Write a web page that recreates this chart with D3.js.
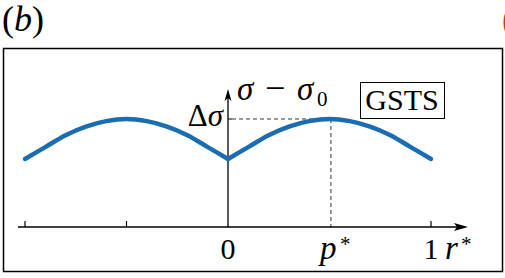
<!DOCTYPE html>
<html>
<head>
<meta charset="utf-8">
<script src="https://cdn.jsdelivr.net/npm/d3@7"></script>
<style>
body{margin:0;background:#fff;}
svg text{font-family:"Liberation Serif","Times New Roman","DejaVu Serif",serif;fill:#000;}
</style>
</head>
<body>
<div id="chart"></div>
<script>
// r* positions and read-off sigma - sigma0 (in units of the peak, delta sigma = 1)
var rValues=[-1,-0.9,-0.8,-0.7,-0.6,-0.5,-0.4,-0.3,-0.2,-0.1,0,0.1,0.2,0.3,0.4,0.5,0.6,0.7,0.8,0.9,1];
var sigmaValues=[0.63,0.74,0.85,0.93,0.98,1.0,0.98,0.93,0.85,0.74,0.63,0.74,0.85,0.93,0.98,1.0,0.98,0.93,0.85,0.74,0.63];
var tickValues=[-1,-0.5,0,0.507,1];
var pStar=0.507;
var deltaSigma=1;

var width=505,height=278;
var svg=d3.select("#chart").append("svg").attr("width",width).attr("height",height);

var x=d3.scaleLinear().domain([0,1]).range([228,431]);
var y=d3.scaleLinear().domain([0,1]).range([227,119]);

// panel label
svg.append("text").attr("x",2).attr("y",31).style("font-size","36px")
	.html('(<tspan font-style="italic">b</tspan>)');
svg.append("text").attr("x",502).attr("y",31).style("font-size","36px").style("fill","#b5470c").text("(c)");

// frame
svg.append("rect").attr("x",3.5).attr("y",48.5).attr("width",499).attr("height",223)
	.style("fill","none").style("stroke","#000").style("stroke-width","1.5px");

// x axis
svg.append("line").attr("x1",18).attr("y1",y(0)).attr("x2",462).attr("y2",y(0))
	.style("stroke","#000").style("stroke-width","1.3px");
svg.append("path").attr("d","M468,"+y(0)+" L454,"+(y(0)-4)+" L457,"+y(0)+" L454,"+(y(0)+4)+"Z").style("fill","#000");

svg.selectAll(".tick").data(tickValues.filter(function(d){return d!=0 && d!=pStar;})).enter()
	.append("line").attr("class","tick")
	.attr("x1",function(d){return x(d);}).attr("x2",function(d){return x(d);})
	.attr("y1",y(0)).attr("y2",y(0)-6)
	.style("stroke","#000").style("stroke-width","1.2px");

// y axis
svg.append("line").attr("x1",x(0)).attr("y1",y(0)).attr("x2",x(0)).attr("y2",96)
	.style("stroke","#000").style("stroke-width","1.3px");
svg.append("path").attr("d","M"+x(0)+",89 L"+(x(0)-3.5)+",101 L"+x(0)+",98 L"+(x(0)+3.5)+",101Z").style("fill","#000");
svg.append("line").attr("x1",x(0)).attr("x2",x(0)+4).attr("y1",y(deltaSigma)).attr("y2",y(deltaSigma))
	.style("stroke","#000").style("stroke-width","1px");

// dashed guides
svg.append("line").attr("x1",x(0)+4).attr("y1",y(deltaSigma)).attr("x2",x(pStar)).attr("y2",y(deltaSigma))
	.style("stroke","#000").style("stroke-width","0.8px").style("stroke-dasharray","4,3");
svg.append("line").attr("x1",x(pStar)).attr("y1",y(deltaSigma)).attr("x2",x(pStar)).attr("y2",y(0))
	.style("stroke","#000").style("stroke-width","0.8px").style("stroke-dasharray","4,3");

// curve, two halves to keep the cusp at r*=0
var pts=rValues.map(function(r,i){return {r:r,s:sigmaValues[i]};});
var line=d3.line().x(function(d){return x(d.r);}).y(function(d){return y(d.s);}).curve(d3.curveCatmullRom);
var halves=[pts.filter(function(d){return d.r<=0;}),pts.filter(function(d){return d.r>=0;})];
svg.selectAll(".curve").data(halves).enter().append("path").attr("class","curve")
	.attr("d",line).style("fill","none").style("stroke","#1a6db3")
	.style("stroke-width","4.5px").style("stroke-linecap","round").style("stroke-linejoin","round");

// tick labels
svg.append("text").attr("x",x(0)).attr("y",259).style("font-size","30px").style("text-anchor","middle").text("0");
svg.append("text").attr("x",320).attr("y",259).style("font-size","33px").style("font-style","italic").text("p");
svg.append("text").attr("x",340).attr("y",251).style("font-size","21px").text("*");
svg.append("text").attr("x",x(1)).attr("y",259).style("font-size","30px").style("text-anchor","middle").text("1");
svg.append("text").attr("x",445).attr("y",259).style("font-size","33px").style("font-style","italic").text("r");
svg.append("text").attr("x",461).attr("y",251).style("font-size","21px").text("*");

// axis titles
svg.append("text").attr("x",237).attr("y",100).style("font-size","33px").style("font-style","italic").text("σ");
svg.append("text").attr("x",265).attr("y",100).style("font-size","36px").text("−");
svg.append("text").attr("x",297).attr("y",100).style("font-size","33px").style("font-style","italic").text("σ");
svg.append("text").attr("x",317).attr("y",106).style("font-size","21px").text("0");
svg.append("text").attr("x",223).attr("y",126).style("font-size","31px").style("text-anchor","end")
	.html('Δ<tspan font-style="italic">σ</tspan>');

// legend box
svg.append("rect").attr("x",360.5).attr("y",82.5).attr("width",84).attr("height",36)
	.style("fill","#fff").style("stroke","#000").style("stroke-width","1px");
svg.append("text").attr("x",402).attr("y",110).style("font-size","30px").style("text-anchor","middle").text("GSTS");
</script>
</body>
</html>
